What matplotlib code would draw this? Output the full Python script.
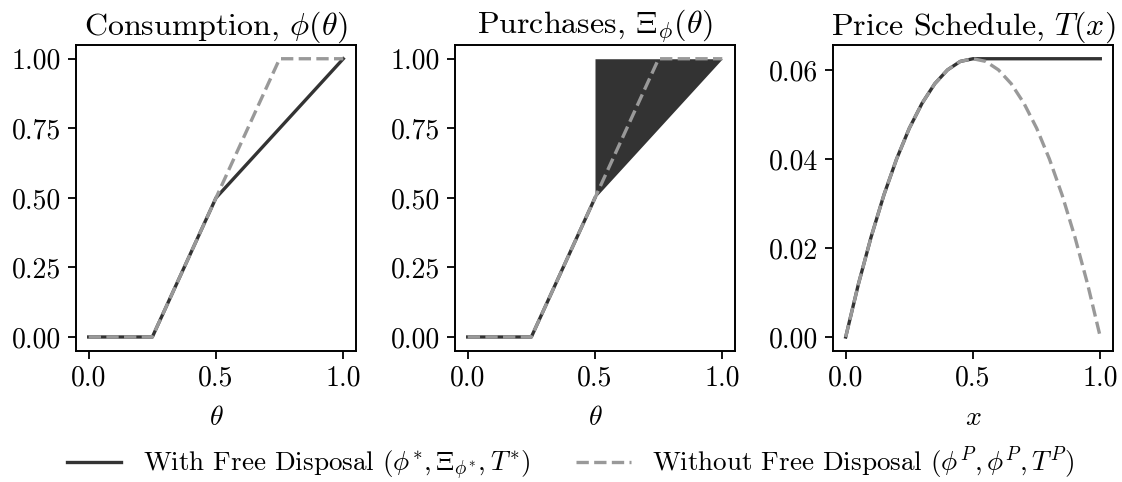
"""
Free disposal vs. no free disposal: consumption, purchases and price schedule.
Output: out.png
"""
import matplotlib
matplotlib.use("Agg")
import matplotlib.pyplot as plt
from matplotlib.ticker import FormatStrFormatter

plt.rcParams["font.family"] = "serif"
plt.rcParams["font.serif"] = ["cmr10"]
plt.rcParams["mathtext.fontset"] = "cm"
plt.rcParams["axes.formatter.use_mathtext"] = True
plt.rcParams["axes.unicode_minus"] = False
plt.rcParams["axes.linewidth"] = 1.4
for a in ("xtick", "ytick"):
    plt.rcParams[f"{a}.major.size"] = 5.5
    plt.rcParams[f"{a}.major.width"] = 1.3
    plt.rcParams[f"{a}.major.pad"] = 5

DARK = "#333333"
GREY = "#999999"

# --- data ---
theta = [0.0, 0.25, 0.5, 0.75, 1.0]
phi_star = [0.0, 0.0, 0.5, 0.75, 1.0]
phi_p = [0.0, 0.0, 0.5, 1.0, 1.0]

# purchase set above phi* for theta >= 0.5
fill_theta = [0.5, 1.0]
fill_low = [0.5, 1.0]
fill_high = [1.0, 1.0]

x = [0.0, 0.05, 0.1, 0.15, 0.2, 0.25, 0.3, 0.35, 0.4, 0.45, 0.5,
     0.55, 0.6, 0.65, 0.7, 0.75, 0.8, 0.85, 0.9, 0.95, 1.0]
T_p = [0.0, 0.0119, 0.0225, 0.0319, 0.04, 0.0469, 0.0525, 0.0569, 0.06, 0.0619, 0.0625,
       0.0619, 0.06, 0.0569, 0.0525, 0.0469, 0.04, 0.0319, 0.0225, 0.0119, 0.0]
T_star = [0.0, 0.0119, 0.0225, 0.0319, 0.04, 0.0469, 0.0525, 0.0569, 0.06, 0.0619, 0.0625,
          0.0625, 0.0625, 0.0625, 0.0625, 0.0625, 0.0625, 0.0625, 0.0625, 0.0625, 0.0625]

fig = plt.figure(figsize=(11.22, 4.82), dpi=100)
lefts = [0.0677, 0.4055, 0.7424]
axes = [fig.add_axes([l, 0.272, 0.2496, 0.635]) for l in lefts]

LW = 2.4
TICK_FS = 20
TITLE_FS = 23
LEG_FS = 19.5

# --- Consumption ---
ax = axes[0]
l1, = ax.plot(theta, phi_star, "-", color=DARK, lw=LW)
l2, = ax.plot(theta, phi_p, "--", color=GREY, lw=LW)
ax.set_title(r"Consumption, $\phi(\theta)$", fontsize=TITLE_FS, pad=5)
ax.set_xlabel(r"$\theta$", fontsize=TICK_FS, labelpad=9.5)

# --- Purchases ---
ax = axes[1]
ax.plot(theta[:3], phi_star[:3], "-", color=DARK, lw=LW)
ax.fill_between(fill_theta, fill_low, fill_high, color=DARK, lw=0)
ax.plot(theta, phi_p, "--", color=GREY, lw=LW)
ax.set_title(r"Purchases, $\Xi_\phi(\theta)$", fontsize=TITLE_FS, pad=5)
ax.set_xlabel(r"$\theta$", fontsize=TICK_FS, labelpad=9.5)

# --- Price schedule ---
ax = axes[2]
ax.plot(x, T_star, "-", color=DARK, lw=LW)
ax.plot(x, T_p, "--", color=GREY, lw=LW)
ax.set_title(r"Price Schedule, $T(x)$", fontsize=TITLE_FS, pad=5)
ax.set_xlabel(r"$x$", fontsize=TICK_FS, labelpad=9.5)
ax.set_yticks([0.0, 0.02, 0.04, 0.06])

for ax in axes:
    ax.set_xticks([0.0, 0.5, 1.0])
    ax.tick_params(labelsize=TICK_FS)
    ax.xaxis.set_major_formatter(FormatStrFormatter("%.1f"))
    ax.yaxis.set_major_formatter(FormatStrFormatter("%.2f"))
for ax in axes[:2]:
    ax.set_yticks([0.0, 0.25, 0.5, 0.75, 1.0])

fig.legend([l1, l2],
           [r"With Free Disposal $(\phi^{*}, \Xi_{\phi^{*}}, T^{*})$",
            r"Without Free Disposal $(\phi^{P}, \phi^{P}, T^{P})$"],
           loc="lower center", ncol=2, frameon=False, fontsize=LEG_FS,
           bbox_to_anchor=(0.509, -0.05), handlelength=2.0, columnspacing=1.7)

fig.savefig("out.png", dpi=100)
